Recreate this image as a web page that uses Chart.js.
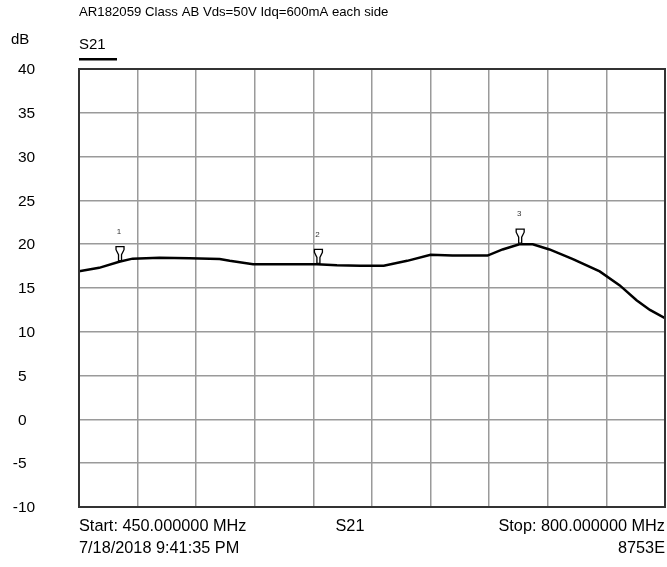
<!DOCTYPE html>
<html>
<head>
<meta charset="utf-8">
<script src="https://cdn.jsdelivr.net/npm/chart.js@4.4.1/dist/chart.umd.min.js"></script>
<style>
  html, body { margin: 0; padding: 0; background: #fff; }
  #wrap { width: 667px; height: 567px; position: relative; }
</style>
</head>
<body>
<div id="wrap"><canvas id="s21Chart" width="667" height="567"></canvas></div>
<script>
// S21 trace
const freqMHz = [450, 462, 474, 482, 498, 516, 534, 540, 554, 573, 592, 604, 618, 632,
  646, 660, 673, 694, 703, 713, 721, 731, 745, 761, 773, 783, 791, 800];
const gainDb = [16.9, 17.3, 18.0, 18.35, 18.45, 18.4, 18.3, 18.1, 17.7, 17.7, 17.7, 17.6, 17.55, 17.55,
  18.1, 18.8, 18.7, 18.7, 19.4, 20.0, 20.0, 19.4, 18.3, 16.9, 15.3, 13.6, 12.5, 11.55];

// markers
const markerLabels = ["1", "2", "3"];
const markerFreq = [474.5, 593, 713.5];
const markerDb = [18.0, 17.7, 20.0];

const yTicks = [40, 35, 30, 25, 20, 15, 10, 5, 0, -5, -10];

const FONT = "Liberation Sans, Arial, sans-serif";

// markers, y labels and the analyzer texts
const overlay = {
  id: "overlay",
  afterDatasetsDraw(chart) {
    const ctx = chart.ctx;
    const xs = chart.scales.x, ys = chart.scales.y;
    ctx.save();
    markerFreq.forEach((f, i) => {
      const px = xs.getPixelForValue(f);
      const py = ys.getPixelForValue(markerDb[i]);
      ctx.beginPath();
      ctx.moveTo(px - 4, py - 15);
      ctx.lineTo(px + 4, py - 15);
      ctx.lineTo(px + 4, py - 12);
      ctx.lineTo(px + 1.5, py - 7);
      ctx.lineTo(px + 1.5, py - 1);
      ctx.lineTo(px - 1.5, py - 1);
      ctx.lineTo(px - 1.5, py - 7);
      ctx.lineTo(px - 4, py - 12);
      ctx.closePath();
      ctx.fillStyle = "#fff";
      ctx.fill();
      ctx.lineWidth = 1.3;
      ctx.strokeStyle = "#000";
      ctx.stroke();
      ctx.fillStyle = "#333";
      ctx.font = "8px " + FONT;
      ctx.textAlign = "center";
      ctx.textBaseline = "middle";
      ctx.fillText(markerLabels[i], px - 1, py - 30);
    });
    ctx.restore();
  },
  afterDraw(chart) {
    const ctx = chart.ctx;
    const a = chart.chartArea;
    const ys = chart.scales.y;
    ctx.save();
    ctx.fillStyle = "#000";
    ctx.textBaseline = "middle";
    ctx.textAlign = "left";

    // y labels: digits start at x=18, minus sign hangs to the left
    ctx.font = "15.5px " + FONT;
    yTicks.forEach(v => {
      const txt = String(v);
      const shift = v < 0 ? ctx.measureText("-").width : 0;
      ctx.fillText(txt, 18 - shift, ys.getPixelForValue(v) + 1);
    });
    ctx.font = "15px " + FONT;
    ctx.fillText("dB", 11, 40);
    ctx.fillText("S21", a.left, 45);
    ctx.fillRect(a.left, 58, 38, 2.5);

    ctx.font = "13.2px " + FONT;
    ctx.fillText("AR182059 Class AB Vds=50V Idq=600mA each side", a.left, 12);

    ctx.font = "16.3px " + FONT;
    ctx.fillText("Start: 450.000000 MHz", a.left, 527);
    ctx.fillText("7/18/2018 9:41:35 PM", a.left, 549);
    ctx.textAlign = "center";
    ctx.fillText("S21", 350, 527);
    ctx.textAlign = "right";
    ctx.fillText("Stop: 800.000000 MHz", a.right, 527);
    ctx.fillText("8753E", a.right, 549);
    ctx.restore();
  }
};

new Chart(document.getElementById("s21Chart"), {
  type: "line",
  data: {
    datasets: [{
      data: freqMHz.map((f, i) => ({ x: f, y: gainDb[i] })),
      borderColor: "#000",
      borderWidth: 2.5,
      pointRadius: 0,
      tension: 0,
      fill: false
    }]
  },
  options: {
    responsive: false,
    animation: false,
    devicePixelRatio: 1,
    layout: { padding: { top: 69, right: 2, bottom: 0, left: 0 } },
    plugins: { legend: { display: false }, tooltip: { enabled: false } },
    scales: {
      x: {
        type: "linear",
        min: 450, max: 800,
        ticks: { stepSize: 35, display: false },
        grid: { color: "#9a9a9a", lineWidth: 1.5, drawTicks: false },
        border: { color: "#333", width: 2 },
        afterFit(scale) { scale.height = 60; }
      },
      y: {
        min: -10, max: 40,
        afterBuildTicks(scale) { scale.ticks = yTicks.map(v => ({ value: v })); },
        ticks: { display: false },
        grid: { color: "#9a9a9a", lineWidth: 1.5, drawTicks: false },
        border: { color: "#333", width: 2 },
        afterFit(scale) { scale.width = 79; }
      }
    }
  },
  plugins: [overlay, {
    id: "frame",
    afterDraw(chart) {
      const a = chart.chartArea, ctx = chart.ctx;
      ctx.save();
      ctx.strokeStyle = "#333";
      ctx.lineWidth = 2;
      ctx.strokeRect(a.left, a.top, a.right - a.left, a.bottom - a.top);
      ctx.restore();
    }
  }]
});
</script>
</body>
</html>
